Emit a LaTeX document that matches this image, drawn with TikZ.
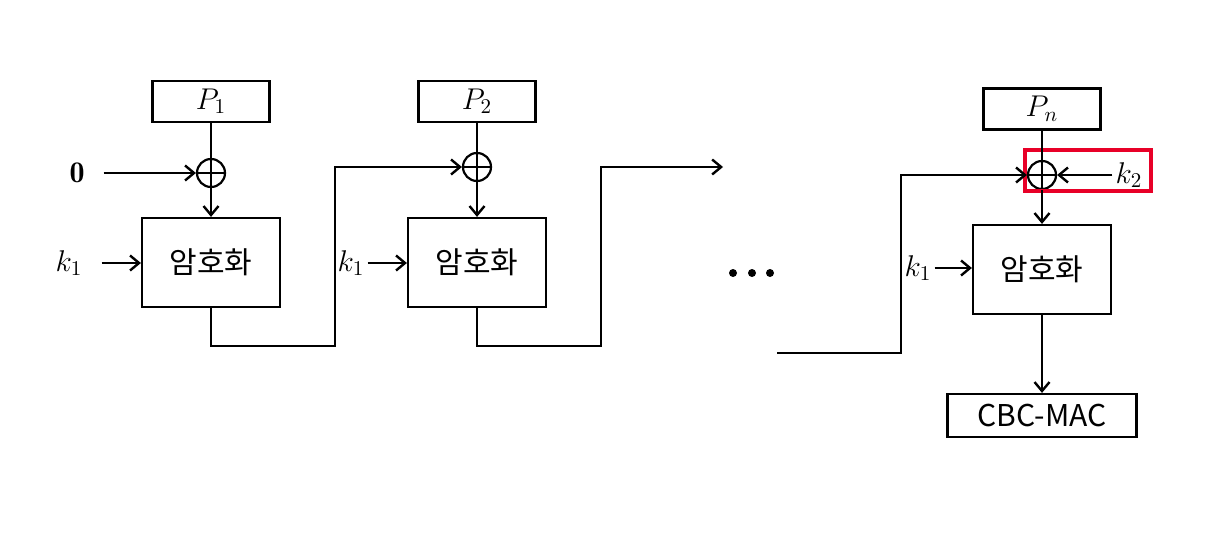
\documentclass[tikz,border=0pt]{standalone}
\usepackage{fix-cm}
\usepackage{fontspec}
\newfontfamily\kr{Noto Sans CJK KR}
\usetikzlibrary{arrows.meta}
\definecolor{hlred}{RGB}{232,0,40}

\tikzset{
  blk/.style={draw, line width=1.1pt, inner sep=0pt},
  plainbox/.style={blk, minimum width=58.5pt, minimum height=20.5pt, font=\fontsize{15}{17}\selectfont},
  encbox/.style={blk, minimum width=69pt, minimum height=44.5pt, font=\kr\fontsize{15}{17}\selectfont},
  xor/.style={circle, draw, line width=1.1pt, minimum size=14pt, inner sep=0pt,
    path picture={\draw[line width=1.1pt] (path picture bounding box.north) -- (path picture bounding box.south)
      (path picture bounding box.west) -- (path picture bounding box.east);}},
  lbl/.style={inner sep=1pt, font=\fontsize{15}{17}\selectfont},
}

\begin{document}
\begin{tikzpicture}[x=0.5pt, y=-0.5pt, line width=1.2pt, >={Straight Barb[length=4.5pt,width=7.5pt]}]
    \useasboundingbox (0,0) rectangle (1214,534);

    % first block
    \node[plainbox] (p1) at (211,101.5) {$P_1$};
    \node[xor] (x1) at (211,173) {};
    \node[encbox] (e1) at (211,262.5) {암호화};
    \node[lbl] (zero) at (77,173) {$\mathbf{0}$};
    \node[lbl] (k1a) at (69,263) {$k_1$};

    % second block
    \node[plainbox] (p2) at (477,101.5) {$P_2$};
    \node[xor] (x2) at (477,167) {};
    \node[encbox] (e2) at (477,262.5) {암호화};
    \node[lbl] (k1b) at (351,263) {$k_1$};

    % last block
    \node[plainbox] (pn) at (1042,109) {$P_n$};
    \node[xor] (xn) at (1042,175) {};
    \node[encbox] (en) at (1042,269.5) {암호화};
    \node[lbl] (k1c) at (918,268) {$k_1$};
    \node[lbl] (k2) at (1129,175) {$k_2$};
    \node[blk, minimum width=94.5pt, minimum height=21.5pt, font=\kr\fontsize{15}{17}\selectfont] (mac) at (1042,415.5) {CBC-MAC};
    \node[draw=hlred, line width=2pt, minimum width=63pt, minimum height=20.5pt, inner sep=0pt] (hl) at (1088,170.5) {}; % highlight

    \foreach \dx in {733,752,770} \fill (\dx,273) circle (4); % dots

    \coordinate (b1) at (335,346);
    \coordinate (b2) at (601,346);
    \coordinate (out2) at (723,167);
    \coordinate (inn) at (777,353);
    \coordinate (bn) at (901,353);

    % inputs
    \draw (p1) -- (x1);
    \draw[->] (x1) -- (e1);
    \draw[->] ([xshift=8pt]zero.east) -- (x1);
    \draw[->] ([xshift=8pt]k1a.east) -- (k1a.east -| e1.west);
    \draw (p2) -- (x2);
    \draw[->] (x2) -- (e2);
    \draw[->] (k1b.east) -- (k1b.east -| e2.west);
    \draw (pn) -- (xn);
    \draw[->] (xn) -- (en);
    \draw[->] (k1c.east) -- (k1c.east -| en.west);
    \draw[->] (k2) -- (xn);

    % chaining
    \draw[->] (e1.south) |- (b1) |- (x2);
    \draw[->] (e2.south) |- (b2) |- (out2);
    \draw[->] (inn) -- (bn) |- (xn);
    \draw[->] (en) -- (mac);
\end{tikzpicture}
\end{document}
